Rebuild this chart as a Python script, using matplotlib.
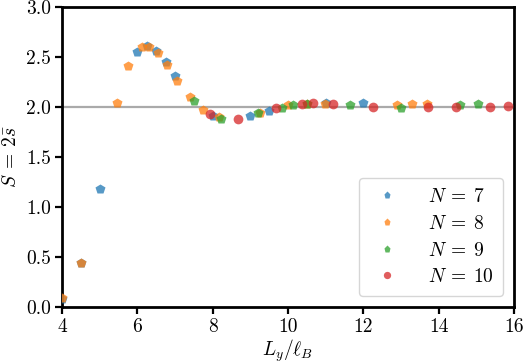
import numpy as np
import matplotlib
matplotlib.use("Agg")
import matplotlib.pyplot as plt

plt.rcParams['mathtext.fontset'] = 'cm'
plt.rcParams['font.family'] = ['cmr10', 'DejaVu Serif']
plt.rcParams['axes.formatter.use_mathtext'] = True
plt.rcParams['axes.unicode_minus'] = False

# ----- data -----
x7 = [4.0, 4.5, 5.0, 6.0, 6.25, 6.5, 6.75, 7.0, 8.0, 9.0, 9.5, 11.0, 12.0]
y7 = [0.08, 0.44, 1.18, 2.55, 2.61, 2.56, 2.45, 2.31, 1.91, 1.91, 1.96, 2.04, 2.04]

x8 = [4.0, 4.5, 5.46, 5.76, 6.12, 6.32, 6.54, 6.78, 7.06, 7.39, 7.74, 8.18,
      9.25, 10.0, 10.5, 10.97, 12.9, 13.29, 13.7]
y8 = [0.09, 0.44, 2.04, 2.41, 2.60, 2.60, 2.54, 2.42, 2.26, 2.10, 1.97, 1.90,
      1.94, 2.02, 2.03, 2.03, 2.02, 2.03, 2.03]

x9 = [7.5, 8.21, 9.2, 9.84, 10.12, 10.5, 11.64, 13.0, 14.57, 15.03]
y9 = [2.06, 1.88, 1.94, 1.99, 2.02, 2.03, 2.02, 1.99, 2.02, 2.03]

x10 = [7.92, 8.67, 9.69, 10.37, 10.67, 11.2, 12.26, 13.72, 14.46, 15.35, 15.85]
y10 = [1.93, 1.88, 1.99, 2.03, 2.04, 2.03, 2.0, 2.0, 2.0, 2.0, 2.01]

labels = [r'$N \:=\: 7$', r'$N \:=\: 8$', r'$N \:=\: 9$', r'$N \:=\: 10$']

fig = plt.figure(figsize=(5.23, 3.63), dpi=100)
ax = fig.add_axes([0.1185, 0.154, 0.8645, 0.827])

ax.axhline(2.0, color='#aaaaaa', lw=1.6, zorder=1)

ms = 7
ax.plot(x7, y7, 'p', color='#1f77b4', alpha=0.75, ms=ms, mec='none', label=labels[0], zorder=3)
ax.plot(x8, y8, 'p', color='#ff7f0e', alpha=0.75, ms=ms, mec='none', label=labels[1], zorder=3)
ax.plot(x9, y9, 'p', color='#2ca02c', alpha=0.75, ms=ms, mec='none', label=labels[2], zorder=3)
ax.plot(x10, y10, 'o', color='#d62728', alpha=0.75, ms=ms, mec='none', label=labels[3], zorder=3)

ax.set_xlim(4, 16)
ax.set_ylim(0, 3)
ax.set_xticks(np.arange(4, 17, 2))
ax.set_yticks(np.arange(0, 3.01, 0.5))
ax.set_xticklabels([str(v) for v in range(4, 17, 2)])
ax.set_yticklabels(['%.1f' % v for v in np.arange(0, 3.01, 0.5)])

for sp in ax.spines.values():
    sp.set_linewidth(2.0)
ax.tick_params(width=1.6, length=5, labelsize=14, pad=3)

ax.set_xlabel(r'$L_y/\ell_B$', fontsize=14, labelpad=1)
ax.set_ylabel(r'$S \:=\: 2\bar{s}$', fontsize=14, labelpad=4)

ax.legend(loc='lower right', fontsize=14, markerscale=0.75, handlelength=1.95,
          handletextpad=1.1, labelspacing=0.45, borderpad=0.5, borderaxespad=0,
          bbox_to_anchor=(0.976, 0.037))

fig.savefig('out.png', dpi=100)
